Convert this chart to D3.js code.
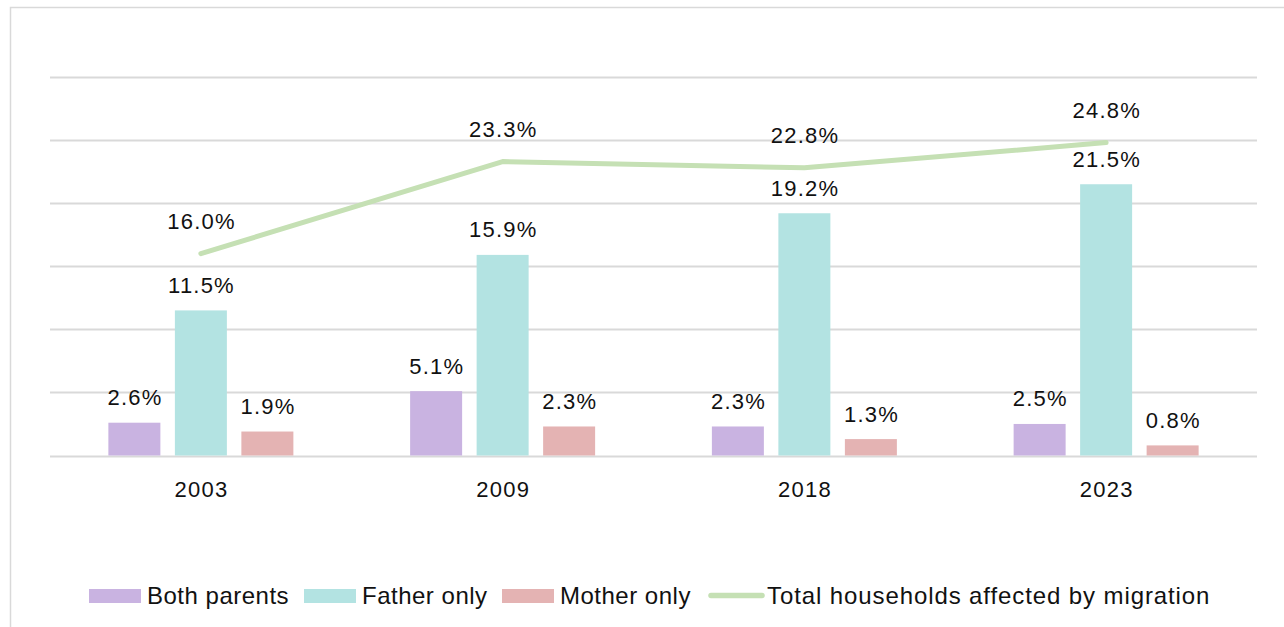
<!DOCTYPE html>
<html>
<head>
<meta charset="utf-8">
<script src="https://cdn.jsdelivr.net/npm/d3@7"></script>
<style>
  html, body { margin: 0; padding: 0; background: #fff; }
  svg { display: block; font-family: "Liberation Sans", Arial, sans-serif; }
</style>
</head>
<body>
<script>
const years = ['2003', '2009', '2018', '2023'];
const seriesNames = ['Both parents', 'Father only', 'Mother only'];
const bothParents = [2.6, 5.1, 2.3, 2.5];
const fatherOnly = [11.5, 15.9, 19.2, 21.5];
const motherOnly = [1.9, 2.3, 1.3, 0.8];
const totalHouseholds = [16.0, 23.3, 22.8, 24.8];
const lineName = 'Total households affected by migration';
const yTicks = [0, 5, 10, 15, 20, 25, 30];

const colors = ['#c9b3e1', '#b3e3e2', '#e4b3b3'];
const lineColor = '#c5e0b4';
const labelSpacing = 1.2;

const svg = createSVG();
drawChart(svg);

function createSVG(){
  return d3.select(document.body)
    .append('svg')
    .attr('width', 1284)
    .attr('height', 627);
}

function drawChart(svg){
  // 바깥 테두리
  svg.append('rect')
    .attr('x', 10.5).attr('y', 7.5)
    .attr('width', 1300).attr('height', 650)
    .attr('fill', 'none')
    .attr('stroke', '#d9d9d9')
    .attr('stroke-width', 1.5);

  const x = d3.scaleBand()
    .domain(years)
    .range([50, 1257]);

  // 그룹 안에서 막대 위치
  const inner = d3.scaleBand()
    .domain(seriesNames)
    .range([-99.75, 99.75])
    .paddingInner(0.218)
    .paddingOuter(0.109);

  const y = d3.scaleLinear()
    .domain([0, 30])
    .range([455.5, 77]);

  // 가로 눈금선
  svg.append('g').selectAll('line')
    .data(yTicks)
    .join('line')
    .attr('x1', 50).attr('x2', 1257)
    .attr('y1', d => Math.round(y(d)) + 0.5)
    .attr('y2', d => Math.round(y(d)) + 0.5)
    .attr('stroke', '#d9d9d9')
    .attr('stroke-width', 2);

  const values = [bothParents, fatherOnly, motherOnly];
  const bars = [];
  values.forEach((arr, si) => {
    arr.forEach((v, i) => bars.push({ s: seriesNames[si], si, year: years[i], v }));
  });

  const cx = yr => x(yr) + x.bandwidth() / 2;

  svg.append('g').selectAll('rect')
    .data(bars)
    .join('rect')
    .attr('x', d => cx(d.year) + inner(d.s))
    .attr('y', d => y(d.v))
    .attr('width', inner.bandwidth())
    .attr('height', d => y(0) - y(d.v))
    .attr('fill', d => colors[d.si]);

  svg.append('g').selectAll('text')
    .data(bars)
    .join('text')
    .attr('x', d => cx(d.year) + inner(d.s) + inner.bandwidth() / 2 + labelSpacing / 2)
    .attr('y', d => y(d.v) - 17.5)
    .attr('text-anchor', 'middle')
    .attr('font-size', 22)
    .attr('letter-spacing', labelSpacing)
    .attr('fill', '#111')
    .text(d => d.v.toFixed(1) + '%');

  // 합계 선
  const line = d3.line()
    .x((d, i) => cx(years[i]))
    .y(d => y(d));

  svg.append('path')
    .datum(totalHouseholds)
    .attr('d', line)
    .attr('fill', 'none')
    .attr('stroke', lineColor)
    .attr('stroke-width', 5)
    .attr('stroke-linecap', 'round')
    .attr('stroke-linejoin', 'round');

  svg.append('g').selectAll('text')
    .data(totalHouseholds)
    .join('text')
    .attr('x', (d, i) => cx(years[i]) + labelSpacing / 2)
    .attr('y', d => y(d) - 24.5)
    .attr('text-anchor', 'middle')
    .attr('font-size', 22)
    .attr('letter-spacing', labelSpacing)
    .attr('fill', '#111')
    .text(d => d.toFixed(1) + '%');

  // X축 라벨
  const xAxis = d3.axisBottom(x).tickSize(0).tickPadding(0);
  const gx = svg.append('g')
    .attr('transform', 'translate(0, 455.5)')
    .call(xAxis);
  gx.select('.domain').remove();
  gx.selectAll('text')
    .attr('dy', null)
    .attr('x', labelSpacing / 2)
    .attr('y', 41.5)
    .attr('font-size', 22)
    .attr('letter-spacing', labelSpacing)
    .attr('font-family', '"Liberation Sans", Arial, sans-serif')
    .attr('fill', '#111');

  drawLegend(svg);
}

function drawLegend(svg){
  const items = seriesNames.map((n, i) => ({ name: n, color: colors[i], type: 'bar' }))
    .concat([{ name: lineName, color: lineColor, type: 'line' }]);
  const legendX = [89, 304, 502, 708]; // 범례 항목 시작 위치
  const yc = 596;
  const g = svg.append('g');
  items.forEach((it, i) => {
    const xPos = legendX[i];
    if (it.type === 'bar') {
      g.append('rect')
        .attr('x', xPos).attr('y', yc - 7)
        .attr('width', 52).attr('height', 14)
        .attr('fill', it.color);
    } else {
      g.append('line')
        .attr('x1', xPos + 3).attr('x2', xPos + 54)
        .attr('y1', yc - 0.5).attr('y2', yc - 0.5)
        .attr('stroke', it.color)
        .attr('stroke-width', 5.5)
        .attr('stroke-linecap', 'round');
    }
    g.append('text')
      .attr('x', xPos + (it.type === 'bar' ? 58 : 59))
      .attr('y', yc + 7.5)
      .attr('font-size', 24)
      .attr('letter-spacing', it.type === 'bar' ? 0.5 : 0.9)
      .attr('fill', '#111')
      .text(it.name);
  });
}
</script>
</body>
</html>
